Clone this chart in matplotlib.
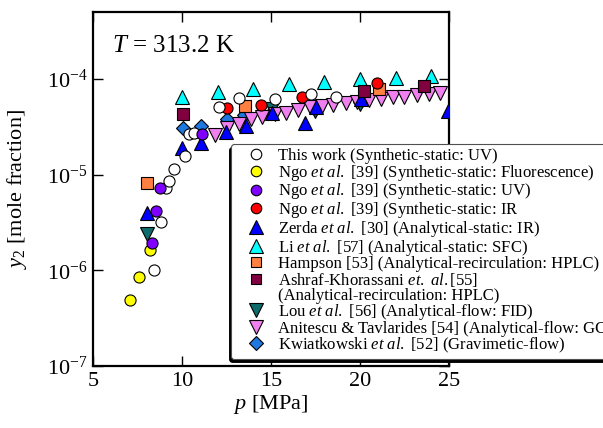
import numpy as np
import matplotlib
matplotlib.use('Agg')
import matplotlib.pyplot as plt
from matplotlib.lines import Line2D

plt.rcParams['font.family'] = ['Liberation Serif', 'DejaVu Serif']
plt.rcParams['mathtext.fontset'] = 'custom'
plt.rcParams['mathtext.rm'] = 'Liberation Serif'
plt.rcParams['mathtext.it'] = 'Liberation Serif:italic'
plt.rcParams['axes.unicode_minus'] = False

# This work (Synthetic-static: UV)
this_p = [8.43, 8.80, 9.10, 9.29, 9.53, 10.15, 10.41, 10.67, 12.09, 13.22, 15.24, 17.23, 18.65]
this_y = [1.0e-6, 3.2e-6, 7.2e-6, 8.5e-6, 1.15e-5, 1.58e-5, 2.64e-5, 2.75e-5, 5.1e-5, 6.3e-5, 6.2e-5, 7.0e-5, 6.5e-5]

# Ngo et al. [39]
ngo_fl_p = [7.1, 7.57, 8.19]
ngo_fl_y = [4.9e-7, 8.5e-7, 1.64e-6]
ngo_uv_p = [8.30, 8.56, 8.76, 11.15]
ngo_uv_y = [1.94e-6, 4.2e-6, 7.2e-6, 2.66e-5]
ngo_ir_p = [12.51, 14.44, 16.74, 20.94]
ngo_ir_y = [4.93e-5, 5.4e-5, 6.5e-5, 9.1e-5]

# Zerda et al. [30]
zerda_p = [8.05, 10.02, 11.05, 12.47, 13.6, 15.04, 16.9, 17.53, 20.06, 24.96]
zerda_y = [4.0e-6, 1.88e-5, 2.12e-5, 2.8e-5, 3.23e-5, 4.37e-5, 3.43e-5, 5.06e-5, 6.1e-5, 4.66e-5]

# Li et al. [57]
li_p = [10, 12, 14, 16, 18, 20, 22, 24]
li_y = [6.4e-5, 7.3e-5, 7.9e-5, 8.9e-5, 9.3e-5, 9.9e-5, 1.02e-4, 1.06e-4]

# Hampson [53]
hampson_p = [8.03, 13.54, 21.05]
hampson_y = [8.2e-6, 5.2e-5, 7.8e-5]

# Ashraf-Khorassani et al. [55]
ashraf_p = [10.04, 20.24, 23.6]
ashraf_y = [4.27e-5, 7.5e-5, 8.5e-5]

# Lou et al. [56]
lou_p = [8.03, 15.04, 17.5, 20.0]
lou_y = [2.38e-6, 4.9e-5, 4.6e-5, 5.5e-5]

# Anitescu & Tavlarides [54]
anit_p = [11.83, 12.5, 13.2, 13.85, 14.5, 15.2, 15.85, 16.5, 17.2, 17.85,
          18.5, 19.2, 19.85, 20.5, 21.2, 21.85, 22.5, 23.2, 23.85, 24.5]
anit_y = [2.62e-5, 3.05e-5, 3.39e-5, 3.8e-5, 4.04e-5, 4.26e-5, 4.38e-5, 4.74e-5, 5.06e-5, 5.22e-5,
          5.35e-5, 5.57e-5, 5.75e-5, 6.03e-5, 6.22e-5, 6.45e-5, 6.5e-5, 6.75e-5, 6.97e-5, 7.1e-5]

# Kwiatkowski et al. [52]
kwiat_p = [10.04, 11.07, 12.5, 13.5, 15.0, 17.5, 20.0]
kwiat_y = [3.1e-5, 3.2e-5, 3.82e-5, 4.2e-5, 4.4e-5, 4.8e-5, 5.8e-5]

fig = plt.figure(figsize=(6.03, 4.28), dpi=100)
ax = fig.add_axes([93 / 603, 62 / 428, 356 / 603, 354 / 428])

kw = dict(linestyle='none', markeredgecolor='black', markeredgewidth=0.8)

h_kw = ax.plot(kwiat_p, kwiat_y, 'D', color='#1f78e0', markersize=7, zorder=2, **kw)[0]
h_lou = ax.plot(lou_p, lou_y, 'v', color='#0e6b6b', markersize=10, zorder=2, **kw)[0]
h_an = ax.plot(anit_p, anit_y, 'v', color='#f080f0', markersize=10, zorder=3, **kw)[0]
h_ze = ax.plot(zerda_p, zerda_y, '^', color='#0000ff', markersize=10, zorder=4, **kw)[0]
h_li = ax.plot(li_p, li_y, '^', color='#00ffff', markersize=10, zorder=4, **kw)[0]
h_ha = ax.plot(hampson_p, hampson_y, 's', color='#ff8040', markersize=8, zorder=4, **kw)[0]
h_as = ax.plot(ashraf_p, ashraf_y, 's', color='#800040', markersize=8, zorder=4, **kw)[0]
h_ir = ax.plot(ngo_ir_p, ngo_ir_y, 'o', color='#ff0000', markersize=8, zorder=5, **kw)[0]
h_tw = ax.plot(this_p, this_y, 'o', color='white', markersize=8, zorder=6, **kw)[0]
h_fl = ax.plot(ngo_fl_p, ngo_fl_y, 'o', color='#ffff00', markersize=8, zorder=6, **kw)[0]
h_uv = ax.plot(ngo_uv_p, ngo_uv_y, 'o', color='#8000ff', markersize=8, zorder=6, **kw)[0]

ax.set_yscale('log')
ax.set_xlim(5, 25)
ax.set_ylim(1e-7, 5e-4)
ax.set_xticks([5, 10, 15, 20, 25])
ax.set_yticks([1e-7, 1e-6, 1e-5, 1e-4])
ax.yaxis.set_minor_locator(matplotlib.ticker.NullLocator())
ax.tick_params(direction='in', top=True, right=True, length=7, width=1, labelsize=16, pad=4)
for s in ax.spines.values():
    s.set_linewidth(1.6)

ax.set_xlabel('$p$ [MPa]', fontsize=16, labelpad=2)
ax.set_ylabel('$y_2$ [mole fraction]', fontsize=16, labelpad=13)
ax.text(0.052, 0.905, '$T$ = 313.2 K', transform=ax.transAxes, fontsize=18, va='center', ha='left')

blank = Line2D([], [], linestyle='none', marker='none')
handles = [h_tw, h_fl, h_uv, h_ir, h_ze, h_li, h_ha, h_as, blank, h_lou, h_an, h_kw]
labels = [
    'This work (Synthetic-static: UV)',
    r'Ngo $\mathit{et\ al.}$ [39] (Synthetic-static: Fluorescence)',
    r'Ngo $\mathit{et\ al.}$ [39] (Synthetic-static: UV)',
    r'Ngo $\mathit{et\ al.}$ [39] (Synthetic-static: IR',
    r'Zerda $\mathit{et\ al.}$ [30] (Analytical-static: IR)',
    r'Li $\mathit{et\ al.}$ [57] (Analytical-static: SFC)',
    'Hampson [53] (Analytical-recirculation: HPLC)',
    r'Ashraf-Khorassani $\mathit{et.\ al.}$[55]',
    '(Analytical-recirculation: HPLC)',
    r'Lou $\mathit{et\ al.}$ [56] (Analytical-flow: FID)',
    'Anitescu & Tavlarides [54] (Analytical-flow: GC)',
    r'Kwiatkowski $\mathit{et\ al.}$ [52] (Gravimetic-flow)',
]
leg = fig.legend(handles, labels, loc='upper left', bbox_to_anchor=(231 / 603, 1 - 144 / 428),
                 fontsize=12, labelspacing=-0.08, handlelength=2.5, handletextpad=0.1,
                 borderpad=0.25, borderaxespad=0, frameon=True, fancybox=True, framealpha=1,
                 edgecolor='#505050', markerscale=0.95,
                 shadow={'ox': -1, 'oy': -2.5, 'color': 'black', 'alpha': 1})
leg.get_frame().set_linewidth(0.8)

fig.savefig('out.png', dpi=100)
